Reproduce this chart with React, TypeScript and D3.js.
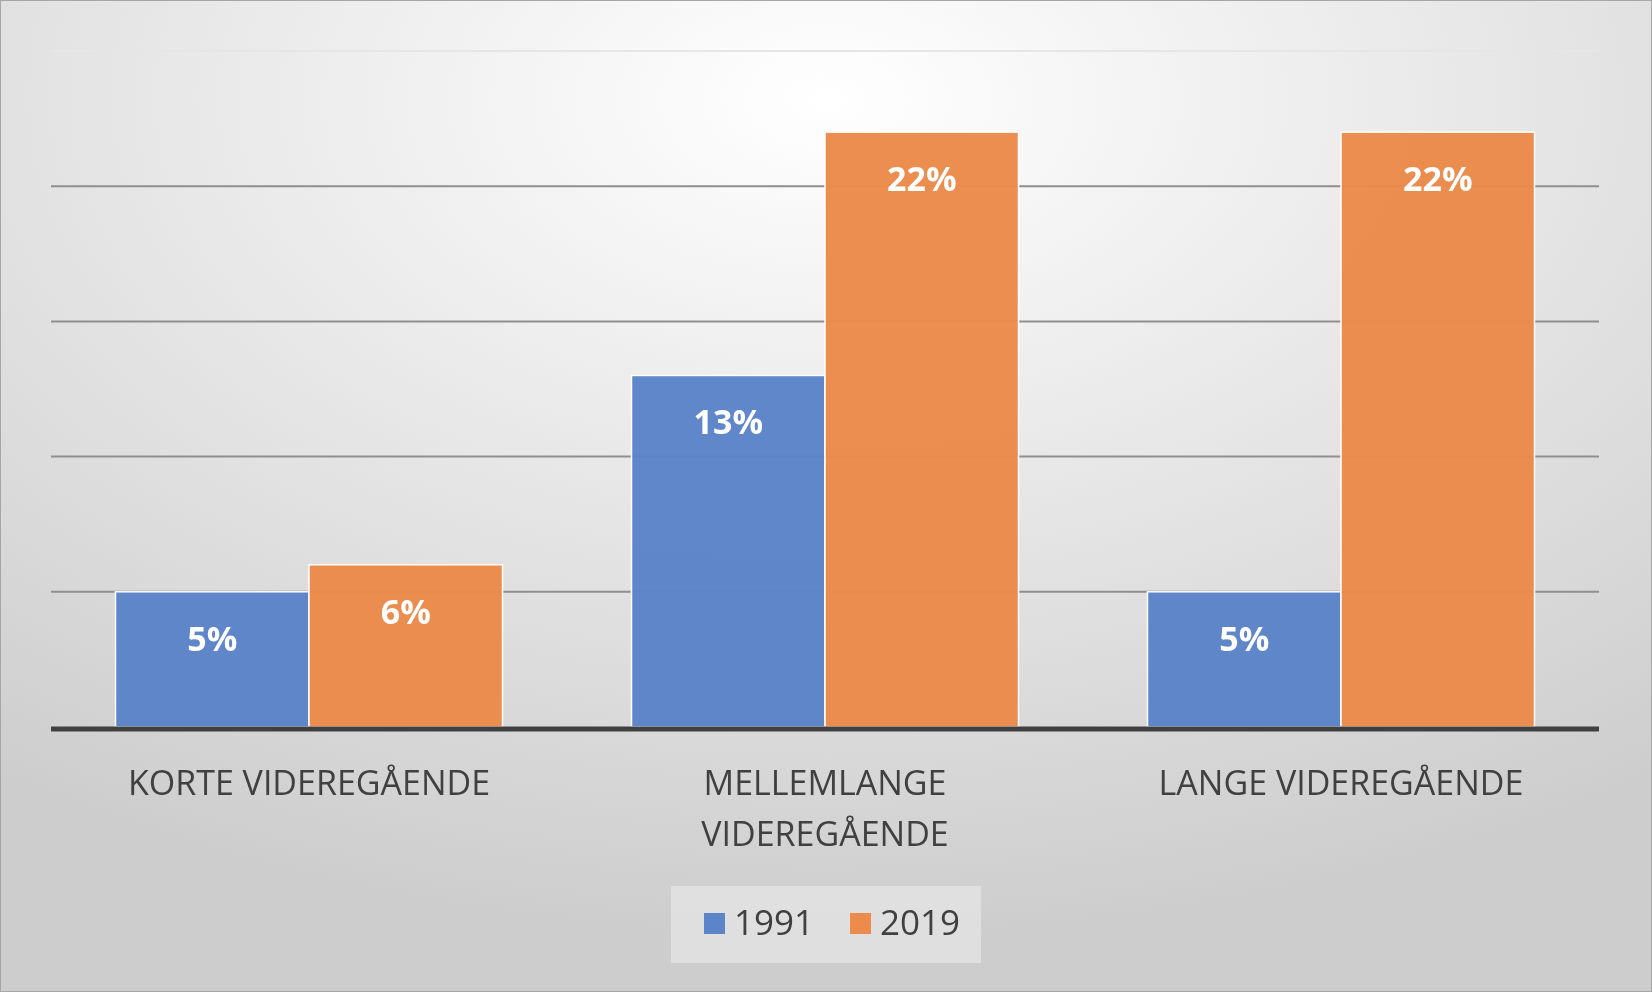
import React from "react";
import * as d3 from "d3";

const categories = ["KORTE VIDEREGÅENDE", "MELLEMLANGE VIDEREGÅENDE", "LANGE VIDEREGÅENDE"];
const categoryLines = [["KORTE VIDEREGÅENDE"], ["MELLEMLANGE", "VIDEREGÅENDE"], ["LANGE VIDEREGÅENDE"]];
const seriesNames = ["1991", "2019"];
const values1991 = [5, 13, 5];
const values2019 = [6, 22, 22];
const gridTicks = [0, 5, 10, 15, 20, 25];
const colors = ["#5b84c9", "#ec8b4b"];

export default function App() {
  const W = 1652, H = 992;
  const left = 51, right = 1599, top = 51, bottom = 727;
  const x0 = d3.scaleBand().domain(categories).range([left, right]).paddingInner(0.25).paddingOuter(0.125);
  const x1 = d3.scaleBand().domain(seriesNames).range([0, x0.bandwidth()]);
  const y = d3.scaleLinear().domain([0, 25]).range([bottom, top]);
  const series = [values1991, values2019];
  const font = "'Open Sans', 'DejaVu Sans', sans-serif";
  return (
    <svg width={W} height={H} style={{ position: "fixed", left: 0, top: 0 }} fontFamily={font}>
      <defs>
        <radialGradient id="bg" cx="50%" cy="10%" r="85%">
          <stop offset="0%" stopColor="#ffffff" />
          <stop offset="100%" stopColor="#cdcdcd" />
        </radialGradient>
      </defs>
      <rect x={0.5} y={0.5} width={W - 1} height={H - 1} fill="url(#bg)" stroke="#a6a6a6" />
      {gridTicks.filter(t => t > 0).map(t => (
        <line key={t} x1={left} x2={right} y1={y(t)} y2={y(t)} stroke={t === 25 ? "#e6e6e6" : "#8f8f8f"} strokeWidth={2} />
      ))}
      {categories.map((c, ci) => series.map((vals, si) => {
        const bx = (x0(c) as number) + (x1(seriesNames[si]) as number);
        const v = vals[ci];
        return (
          <g key={c + si}>
            <rect x={bx} y={y(v)} width={x1.bandwidth()} height={bottom - y(v)} fill={colors[si]} stroke="#ffffff" strokeWidth={1.5} opacity={0.97} />
            <text x={bx + x1.bandwidth() / 2} y={y(v) + 59} textAnchor="middle" fill="#ffffff" fontWeight="bold" fontSize={34}>{v}%</text>
          </g>
        );
      }))}
      <line x1={left} x2={right} y1={bottom + 2} y2={bottom + 2} stroke="#404040" strokeWidth={5} />
      {categories.map((c, ci) => (
        <text key={c} x={(x0(c) as number) + x0.bandwidth() / 2} textAnchor="middle" fill="#404040" fontSize={34}>
          {categoryLines[ci].map((l, li) => (
            <tspan key={li} x={(x0(c) as number) + x0.bandwidth() / 2} y={795 + li * 51}>{l}</tspan>
          ))}
        </text>
      ))}
      <rect x={671} y={886} width={310} height={77} fill="#e3e3e3" opacity={0.8} />
      {seriesNames.map((s, i) => (
        <g key={s} transform={`translate(${704 + i * 146},913)`}>
          <rect width={21} height={21} fill={colors[i]} />
          <text x={30} y={22} fontSize={35} fill="#404040">{s}</text>
        </g>
      ))}
    </svg>
  );
}
